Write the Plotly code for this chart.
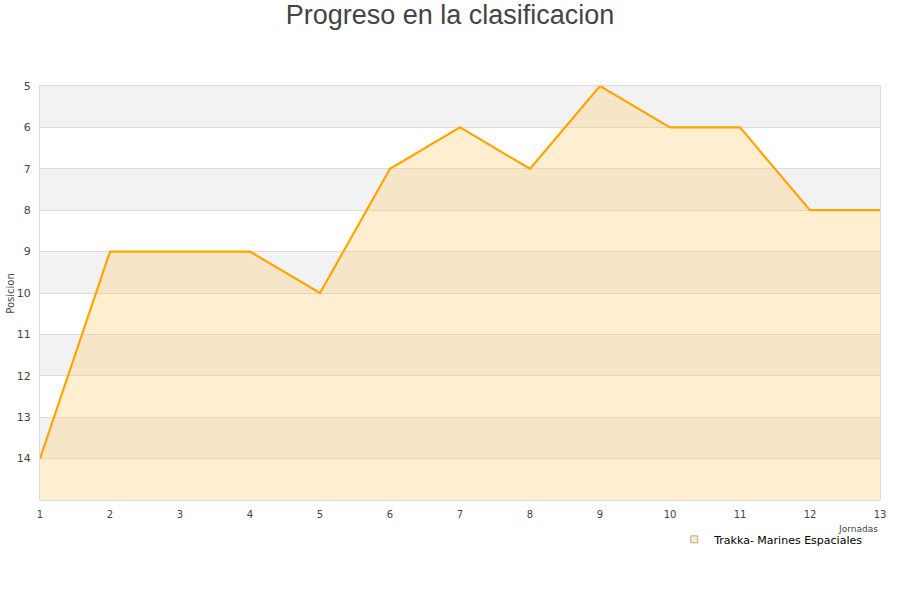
import plotly.graph_objects as go

### Datos

jornadas= list(range(1, 14))
posicion= [14, 9, 9, 9, 10, 7, 6, 7, 5, 6, 6, 8, 8]
equipo= 'Trakka- Marines Espaciales'
pos_ticks= list(range(5, 15))
fondo= 15

fig= go.Figure()

# base invisible para rellenar hasta el fondo del eje (eje invertido)
fig.add_trace(go.Scatter(
    x= jornadas,
    y= [fondo]*len(jornadas),
    mode= 'lines',
    line= dict(width= 0),
    showlegend= False,
    hoverinfo= 'skip'
    ))
fig.add_trace(go.Scatter(
    x= jornadas,
    y= posicion,
    mode= 'lines',
    line= dict(color= '#FFA500', width= 2.2),
    fill= 'tonexty',
    fillcolor= 'rgba(255,200,100,0.3)',
    name= equipo,
    showlegend= False
    ))
# entrada de leyenda con cuadrado
fig.add_trace(go.Scatter(
    x= [None],
    y= [None],
    mode= 'markers',
    marker= dict(symbol= 'square', size= 7, color= '#FEE9C0',
                 line= dict(color= '#999999', width= 0.8)),
    name= equipo
    ))

# bandas alternas
for p in pos_ticks[::2]:
    fig.add_shape(type= 'rect', xref= 'paper', yref= 'y',
                  x0= 0, x1= 1, y0= p, y1= p+1,
                  fillcolor= '#F2F2F2', line= dict(width= 0), layer= 'below')

fig.add_annotation(
    text= 'Jornadas', xref= 'paper', yref= 'paper',
    x= 1, y= -0.07, xanchor= 'right', yanchor= 'middle',
    showarrow= False, font= dict(size= 9, color= '#444444')
    )
fig.add_annotation(
    text= 'Posicion', xref= 'paper', yref= 'paper',
    x= -0.036, y= 0.5, xanchor= 'center', yanchor= 'middle', textangle= -90,
    showarrow= False, font= dict(size= 10, color= '#444444')
    )

fig.update_layout(
    width= 900, height= 600,
    title= dict(text= 'Progreso en la clasificacion', x= 0.5, y= 0.975,
                xref= 'container', yref= 'container',
                xanchor= 'center', yanchor= 'middle',
                font= dict(family= 'Liberation Sans, Arial', size= 27, color= '#444444')),
    font= dict(family= 'DejaVu Sans', size= 11, color= '#444444'),
    plot_bgcolor= 'white', paper_bgcolor= 'white',
    margin= dict(l= 40, r= 20, t= 86, b= 100, autoexpand= False),
    showlegend= True,
    legend= dict(x= 0.986, y= -0.095, xanchor= 'right', yanchor= 'middle',
                 bgcolor= 'rgba(0,0,0,0)', font= dict(size= 11, color= '#000000'),
                 itemsizing= 'trace')
    )
fig.update_xaxes(range= [1, 13], tickvals= jornadas, showgrid= False,
                 zeroline= False, showline= True, linecolor= '#DDDDDD',
                 mirror= True, ticks= '', tickfont= dict(size= 10),
                 ticklabelstandoff= 5, automargin= False)
fig.update_yaxes(range= [fondo, 5], tickvals= pos_ticks, showgrid= True,
                 gridcolor= '#DDDDDD', zeroline= False, showline= True,
                 linecolor= '#DDDDDD', mirror= True, ticks= '',
                 tickfont= dict(size= 11), ticklabelstandoff= 6,
                 automargin= False)

fig.write_html('out.html', config= dict(displayModeBar= False),
               post_script= "document.body.style.margin='0';")
